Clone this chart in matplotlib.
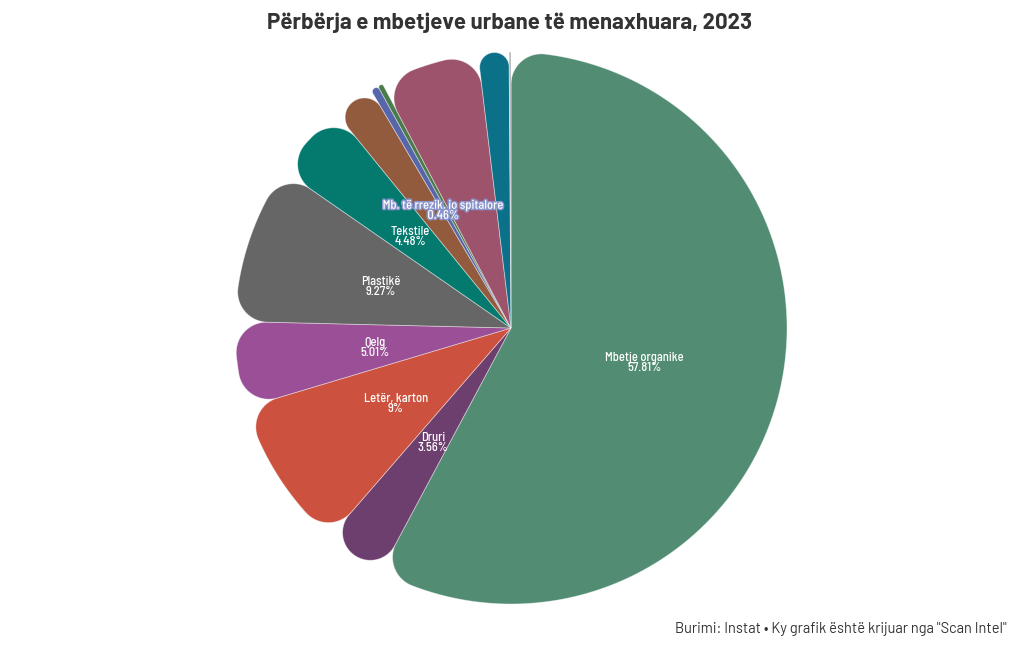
import numpy as np
import matplotlib
matplotlib.use("Agg")
import matplotlib.pyplot as plt
from matplotlib.patches import Polygon
import matplotlib.patheffects as pe

FONTS = ['Barlow Semi Condensed', 'Barlow Condensed', 'IBM Plex Sans Condensed', 'DejaVu Sans']
WIDE_FONTS = ['Barlow', 'Barlow Semi Condensed', 'DejaVu Sans']
plt.rcParams['font.family'] = FONTS

# ---- data ----
categories = ["Mbetje organike", "Druri", "Letër, karton", "Qelq", "Plastikë",
              "Tekstile", "Metale", "Mb. të rrezik. jo spitalore", "Mb. spitalore",
              "Të tjera", "Gomë", "Inerte"]
values = [57.81, 3.56, 9.0, 5.01, 9.27, 4.48, 2.4, 0.46, 0.3, 5.8, 1.8, 0.11]
value_labels = ["57.81%", "3.56%", "9%", "5.01%", "9.27%", "4.48%", "", "0.46%", "", "", "", ""]
show_label = [True, True, True, True, True, True, False, True, False, False, False, False]
colors = ["#528c72", "#6d3f6f", "#cc523f", "#9a4f96", "#666666", "#047a6f",
          "#935b3d", "#5766aa", "#4b7b4b", "#9c536b", "#0b7189", "#b0b0b0"]

title = "Përbërja e mbetjeve urbane të menaxhuara, 2023"
footer = "Burimi: Instat \u2022 Ky grafik është krijuar nga \"Scan Intel\""

W, H = 1020, 650
fig = plt.figure(figsize=(W / 100, H / 100), dpi=100)
cx, cy = 511, 328
half = 300
ax = fig.add_axes([(cx - half) / W, (H - cy - half) / H, 2 * half / W, 2 * half / H])

R = 276
wedges, texts = ax.pie(values, radius=R, startangle=90, counterclock=False,
                       colors=colors, labels=None)
ax.set_xlim(-half, half)
ax.set_ylim(-half, half)
ax.set_aspect('equal')
ax.axis('off')

RC = 0.11 * R


def rounded_wedge(t1, t2, r, rc):
    w = np.radians(t2 - t1)
    s = np.sin(w / 2)
    rc = min(rc, r * s / (1 + s) * 0.999)
    a = np.arcsin(rc / (r - rc))
    d = np.sqrt((r - rc) ** 2 - rc ** 2)
    T1, T2 = np.radians(t1), np.radians(t2)
    pts = [(0.0, 0.0), (d * np.cos(T1), d * np.sin(T1))]
    c1 = (r - rc) * np.array([np.cos(T1 + a), np.sin(T1 + a)])
    for ang in np.linspace(T1 - np.pi / 2, T1 + a, 30):
        pts.append((c1[0] + rc * np.cos(ang), c1[1] + rc * np.sin(ang)))
    for ang in np.linspace(T1 + a, T2 - a, max(2, int(np.degrees(T2 - T1) * 2))):
        pts.append((r * np.cos(ang), r * np.sin(ang)))
    c2 = (r - rc) * np.array([np.cos(T2 - a), np.sin(T2 - a)])
    for ang in np.linspace(T2 - a, T2 + np.pi / 2, 30):
        pts.append((c2[0] + rc * np.cos(ang), c2[1] + rc * np.sin(ang)))
    pts.append((d * np.cos(T2), d * np.sin(T2)))
    return np.array(pts)


for wdg, col in zip(wedges, colors):
    t1, t2, r = wdg.theta1, wdg.theta2, wdg.r
    wdg.set_visible(False)
    poly = Polygon(rounded_wedge(t1, t2, r, RC), closed=True, facecolor=col,
                   edgecolor=(1, 1, 1, 0.45), linewidth=0.6)
    ax.add_patch(poly)

for wdg, name, vl, show, col in zip(wedges, categories, value_labels, show_label, colors):
    if not show:
        continue
    mid = np.radians((wdg.theta1 + wdg.theta2) / 2)
    x, y = 0.497 * R * np.cos(mid), 0.497 * R * np.sin(mid) - 2
    kw = {}
    if name.startswith("Mb. të rrezik"):
        kw['path_effects'] = [pe.withStroke(linewidth=2.2, foreground="#8a94cc")]
    ax.text(x, y, f"{name}\n{vl}", ha='center', va='center', color='white',
            fontsize=9, linespacing=0.78, fontweight='medium', **kw)

fig.text(510 / W, 1 - 23 / H, title, ha='center', va='center', fontsize=16,
         fontweight='bold', color='#333333', family=WIDE_FONTS)
fig.text(1007 / W, 1 - 629 / H, footer, ha='right', va='center', fontsize=10.5,
         color='#333333', family=WIDE_FONTS)

fig.savefig("out.png", dpi=100)
